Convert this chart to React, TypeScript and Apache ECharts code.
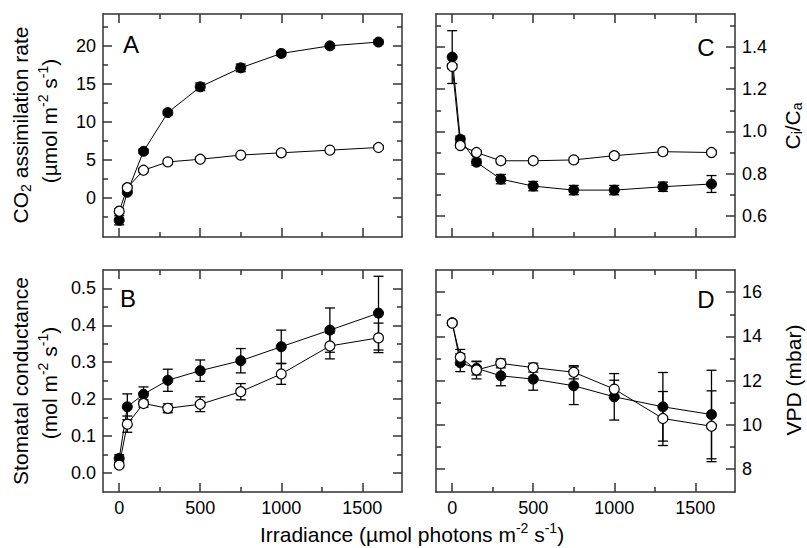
import React, { useEffect, useRef } from "react";
import * as echarts from "echarts";

// ---------- data ----------
const irradiance = [0, 50, 150, 300, 500, 750, 1000, 1300, 1600];

const aFilled = [-3.0, 0.7, 6.1, 11.2, 14.6, 17.1, 19.0, 20.0, 20.5];
const aFilledErr = [0.6, 0.2, 0.3, 0.3, 0.5, 0.5, 0.3, 0.3, 0.3];
const aOpen = [-1.8, 1.3, 3.6, 4.7, 5.05, 5.6, 5.9, 6.25, 6.6];
const aOpenErr = [0.3, 0.2, 0.2, 0.2, 0.2, 0.2, 0.2, 0.2, 0.2];

const bFilled = [0.039, 0.179, 0.213, 0.251, 0.277, 0.304, 0.342, 0.387, 0.433];
const bFilledErr = [0.01, 0.035, 0.02, 0.03, 0.029, 0.033, 0.045, 0.06, 0.1];
const bOpen = [0.021, 0.132, 0.188, 0.175, 0.186, 0.22, 0.268, 0.344, 0.366];
const bOpenErr = [0.005, 0.022, 0.01, 0.012, 0.02, 0.022, 0.028, 0.035, 0.04];

const cFilled = [1.352, 0.963, 0.854, 0.774, 0.741, 0.722, 0.722, 0.738, 0.751];
const cFilledErr = [0.125, 0.015, 0.015, 0.022, 0.022, 0.022, 0.022, 0.022, 0.04];
const cOpen = [1.308, 0.933, 0.9, 0.861, 0.861, 0.865, 0.885, 0.904, 0.9];
const cOpenErr = [0.01, 0.01, 0.01, 0.01, 0.01, 0.01, 0.01, 0.01, 0.01];

const dFilled = [14.62, 12.81, 12.56, 12.22, 12.07, 11.77, 11.27, 10.82, 10.47];
const dFilledErr = [0.1, 0.4, 0.3, 0.45, 0.5, 0.85, 1.05, 1.55, 2.0];
const dOpen = [14.6, 13.06, 12.48, 12.78, 12.59, 12.38, 11.62, 10.29, 9.94];
const dOpenErr = [0.1, 0.35, 0.4, 0.2, 0.2, 0.3, 0.4, 1.22, 1.6];

// tick labels / positions
const xMajor = [0, 500, 1000, 1500];
const xMinor = [250, 750, 1250];
const aMajor = [0, 5, 10, 15, 20];
const aMinor = [-2.5, 2.5, 7.5, 12.5, 17.5, 22.5];
const bMajor = [0, 0.1, 0.2, 0.3, 0.4, 0.5];
const bMinor = [0.05, 0.15, 0.25, 0.35, 0.45];
const cMajor = [0.6, 0.8, 1.0, 1.2, 1.4];
const cMinor = [0.7, 0.9, 1.1, 1.3, 1.5];
const dMajor = [8, 10, 12, 14, 16];
const dMinor = [9, 11, 13, 15];

const FONT = "Liberation Sans, Arial, sans-serif";
const AXIS_COLOR = "#333";
const TICK_FONT = 18;
const TITLE_FONT = 21;

type Panel = {
  grid: { left: number; top: number; width: number; height: number };
  yMin: number;
  yMax: number;
  yMajor: number[];
  yMinor: number[];
  labelSide: "left" | "right";
  xLabels: boolean;
  decimals: number;
  filled: number[];
  filledErr: number[];
  open: number[];
  openErr: number[];
};

const panels: Panel[] = [
  { grid: { left: 103, top: 14, width: 299, height: 223 }, yMin: -5.2, yMax: 24.2, yMajor: aMajor, yMinor: aMinor, labelSide: "left", xLabels: false, decimals: 0, filled: aFilled, filledErr: aFilledErr, open: aOpen, openErr: aOpenErr },
  { grid: { left: 436, top: 14, width: 299, height: 223 }, yMin: 0.5, yMax: 1.556, yMajor: cMajor, yMinor: cMinor, labelSide: "right", xLabels: false, decimals: 1, filled: cFilled, filledErr: cFilledErr, open: cOpen, openErr: cOpenErr },
  { grid: { left: 103, top: 270, width: 299, height: 222 }, yMin: -0.052, yMax: 0.55, yMajor: bMajor, yMinor: bMinor, labelSide: "left", xLabels: true, decimals: 1, filled: bFilled, filledErr: bFilledErr, open: bOpen, openErr: bOpenErr },
  { grid: { left: 436, top: 270, width: 299, height: 222 }, yMin: 6.97, yMax: 17.0, yMajor: dMajor, yMinor: dMinor, labelSide: "right", xLabels: true, decimals: 0, filled: dFilled, filledErr: dFilledErr, open: dOpen, openErr: dOpenErr },
];

const X_MIN = -100;
const X_MAX = 1745;

function App() {
  const ref = useRef<HTMLDivElement>(null);

  useEffect(() => {
    if (!ref.current) return;
    const chart = echarts.init(ref.current, undefined, { renderer: "svg" });

    const grids: any[] = [];
    const xAxes: any[] = [];
    const yAxes: any[] = [];
    const series: any[] = [];

    const lineStyle = { color: AXIS_COLOR, width: 1.5 };
    const tickStyle = { color: AXIS_COLOR, width: 1.5 };

    panels.forEach((p, gi) => {
      grids.push({ ...p.grid, containLabel: false });
      const xBase = xAxes.length;
      const mkX = (position: string, major: boolean, showLine: boolean, labels: boolean) => ({
        type: "value",
        gridIndex: gi,
        min: X_MIN,
        max: X_MAX,
        position,
        axisLine: { show: showLine, onZero: false, lineStyle },
        axisTick: { show: true, inside: true, length: major ? 9 : 5, customValues: major ? xMajor : xMinor, lineStyle: tickStyle },
        axisLabel: labels
          ? {
              show: true,
              customValues: xMajor,
              margin: 7,
              fontSize: TICK_FONT,
              color: "#000",
              fontFamily: FONT,
              formatter: (v: number) => String(v),
            }
          : { show: false },
        splitLine: { show: false },
      });
      xAxes.push(mkX("bottom", true, true, p.xLabels));
      xAxes.push(mkX("bottom", false, false, false));
      xAxes.push(mkX("top", true, true, false));
      xAxes.push(mkX("top", false, false, false));

      const yBase = yAxes.length;
      const mkY = (position: string, major: boolean, showLine: boolean, labels: boolean) => ({
        type: "value",
        gridIndex: gi,
        min: p.yMin,
        max: p.yMax,
        position,
        axisLine: { show: showLine, onZero: false, lineStyle },
        axisTick: { show: true, inside: true, length: major ? 9 : 5, customValues: major ? p.yMajor : p.yMinor, lineStyle: tickStyle },
        axisLabel: labels
          ? {
              show: true,
              customValues: p.yMajor,
              margin: 7,
              fontSize: TICK_FONT,
              color: "#000",
              fontFamily: FONT,
              formatter: (v: number) => v.toFixed(p.decimals),
            }
          : { show: false },
        splitLine: { show: false },
      });
      yAxes.push(mkY("left", true, true, p.labelSide === "left"));
      yAxes.push(mkY("left", false, false, false));
      yAxes.push(mkY("right", true, true, p.labelSide === "right"));
      yAxes.push(mkY("right", false, false, false));

      const errSeries = (vals: number[], errs: number[]) => ({
        type: "custom",
        xAxisIndex: xBase,
        yAxisIndex: yBase,
        clip: false,
        silent: true,
        data: irradiance.map((x, i) => [x, vals[i], errs[i]]),
        encode: { x: 0, y: 1 },
        renderItem: (_params: any, api: any) => {
          const x = api.value(0);
          const y = api.value(1);
          const e = api.value(2);
          const t = api.coord([x, y + e]);
          const b = api.coord([x, y - e]);
          const hw = 5;
          const st = { stroke: "#000", lineWidth: 1.3 };
          return {
            type: "group",
            children: [
              { type: "line", shape: { x1: t[0], y1: t[1], x2: b[0], y2: b[1] }, style: st },
              { type: "line", shape: { x1: t[0] - hw, y1: t[1], x2: t[0] + hw, y2: t[1] }, style: st },
              { type: "line", shape: { x1: b[0] - hw, y1: b[1], x2: b[0] + hw, y2: b[1] }, style: st },
            ],
          };
        },
      });
      series.push(errSeries(p.filled, p.filledErr));
      series.push(errSeries(p.open, p.openErr));
      series.push({
        type: "line",
        xAxisIndex: xBase,
        yAxisIndex: yBase,
        data: irradiance.map((x, i) => [x, p.filled[i]]),
        symbol: "circle",
        symbolSize: 10,
        showSymbol: true,
        itemStyle: { color: "#000", borderColor: "#000", borderWidth: 1 },
        lineStyle: { color: "#000", width: 1 },
        silent: true,
      });
      series.push({
        type: "line",
        xAxisIndex: xBase,
        yAxisIndex: yBase,
        data: irradiance.map((x, i) => [x, p.open[i]]),
        symbol: "circle",
        symbolSize: 10,
        showSymbol: true,
        itemStyle: { color: "#fff", borderColor: "#000", borderWidth: 1.2 },
        lineStyle: { color: "#000", width: 1 },
        silent: true,
      });
    });

    const titleStyle = (text: string, LH = 26, size = TITLE_FONT) => ({
      text,
      fontSize: size,
      fontFamily: FONT,
      fill: "#000",
      align: "center",
      verticalAlign: "middle",
      lineHeight: LH,
      rich: {
        sub: { fontSize: 14, fontFamily: FONT, verticalAlign: "bottom", lineHeight: LH, fill: "#000" },
        sup: { fontSize: 14, fontFamily: FONT, verticalAlign: "top", lineHeight: LH, fill: "#000" },
        n: { fontSize: size, fontFamily: FONT, lineHeight: LH, fill: "#000" },
      },
    });

    const rot = Math.PI / 2;
    const letter = (t: string, x: number, y: number) => ({
      type: "text",
      x,
      y,
      style: { text: t, fontSize: 24, fontFamily: FONT, fill: "#000", align: "center", verticalAlign: "middle" },
    });

    const graphic: any[] = [
      { type: "text", x: 20, y: 125, rotation: rot, style: titleStyle("{n|CO}{sub|2}{n| assimilation rate}") },
      { type: "text", x: 49, y: 121, rotation: rot, style: titleStyle("{n|(µmol m}{sup|-2}{n| s}{sup|-1}{n|)}") },
      { type: "text", x: 20, y: 381, rotation: rot, style: titleStyle("{n|Stomatal conductance}") },
      { type: "text", x: 49, y: 383, rotation: rot, style: titleStyle("{n|(mol m}{sup|-2}{n| s}{sup|-1}{n|)}") },
      { type: "text", x: 792, y: 126, rotation: rot, style: titleStyle("{n|C}{sub|i}{n|/C}{sub|a}", 24) },
      { type: "text", x: 793, y: 380, rotation: rot, style: titleStyle("{n|VPD (mbar)}", 22) },
      { type: "text", x: 412, y: 534, style: titleStyle("{n|Irradiance (µmol photons m}{sup|-2}{n| s}{sup|-1}{n|)}") },
      letter("A", 131, 44),
      letter("C", 706, 47),
      letter("B", 128, 298),
      letter("D", 706, 299),
    ];

    chart.setOption({
      animation: false,
      backgroundColor: "#fff",
      textStyle: { fontFamily: FONT },
      grid: grids,
      xAxis: xAxes,
      yAxis: yAxes,
      series,
      graphic,
    });

    return () => chart.dispose();
  }, []);

  return (
    <div
      ref={ref}
      style={{ position: "fixed", left: 0, top: 0, width: 807, height: 548, background: "#fff" }}
    />
  );
}

export default App;
